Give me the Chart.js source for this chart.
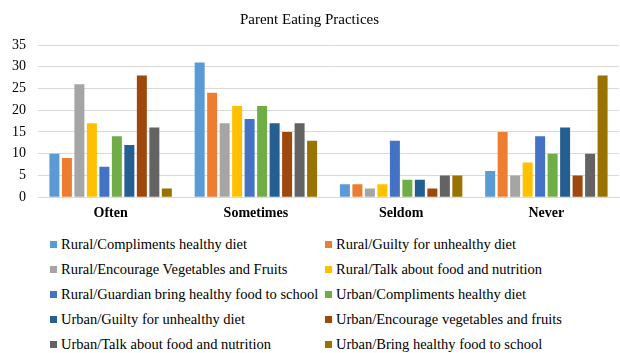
<!DOCTYPE html>
<html>
<head>
<meta charset="utf-8">
<script src="https://cdn.jsdelivr.net/npm/chart.js@4"></script>
<style>
  body { margin: 0; background: #fff; }
  #wrap { position: relative; width: 620px; height: 353px; }
  #chart-box { position: absolute; left: 0; top: 0; width: 620px; height: 230px; }
  #legend { position: absolute; left: 50px; top: 232px; font-family: 'Liberation Serif', 'Times New Roman', serif;
            font-size: 14.5px; color: #000; display: grid; grid-template-columns: 275px 290px; grid-auto-rows: 25px; }
  #legend .item { display: flex; align-items: center; white-space: nowrap; height: 25px; }
  #legend .sw { flex-shrink: 0; width: 7px; height: 7px; margin-right: 4px; }
</style>
</head>
<body>
<div id="wrap">
  <div id="chart-box"><canvas id="practices"></canvas></div>
  <div id="legend"></div>
</div>
<script>
var categories = ['Often', 'Sometimes', 'Seldom', 'Never'];

var seriesNames = [
    'Rural/Compliments healthy diet',
    'Rural/Guilty for unhealthy diet',
    'Rural/Encourage Vegetables and Fruits',
    'Rural/Talk about food and nutrition',
    'Rural/Guardian bring healthy food to school',
    'Urban/Compliments healthy diet',
    'Urban/Guilty for unhealthy diet',
    'Urban/Encourage vegetables and fruits',
    'Urban/Talk about food and nutrition',
    'Urban/Bring healthy food to school'
];

// one row per series: Often, Sometimes, Seldom, Never
var ruralCompliments = [10, 31, 3, 6];
var ruralGuilty      = [9, 24, 3, 15];
var ruralEncourage   = [26, 17, 2, 5];
var ruralTalk        = [17, 21, 3, 8];
var ruralGuardian    = [7, 18, 13, 14];
var urbanCompliments = [14, 21, 4, 10];
var urbanGuilty      = [12, 17, 4, 16];
var urbanEncourage   = [28, 15, 2, 5];
var urbanTalk        = [16, 17, 5, 10];
var urbanBring       = [2, 13, 5, 28];

var yTicks = [0, 5, 10, 15, 20, 25, 30, 35];

var colors = ['#5b9bd5', '#ed7d31', '#a5a5a5', '#ffc000', '#4472c4',
              '#70ad47', '#255e91', '#9e480e', '#636363', '#997300'];

var allValues = [ruralCompliments, ruralGuilty, ruralEncourage, ruralTalk, ruralGuardian,
                 urbanCompliments, urbanGuilty, urbanEncourage, urbanTalk, urbanBring];

var serif = "'Liberation Serif', 'Times New Roman', serif";

var datasets = allValues.map(function (vals, i) {
    return {
        label: seriesNames[i],
        data: vals,
        backgroundColor: colors[i],
        borderWidth: 0,
        categoryPercentage: 0.86,
        barPercentage: 0.8
    };
});

var ctx = document.getElementById('practices').getContext('2d');
var practicesChart = new Chart(ctx, {
    type: 'bar',
    data: { labels: categories, datasets: datasets },
    options: {
        responsive: true,
        maintainAspectRatio: false,
        animation: false,
        layout: { padding: { left: 0, right: 1, top: 0, bottom: 0 } },
        plugins: {
            legend: { display: false },
            tooltip: { enabled: false },
            title: {
                display: true,
                text: 'Parent Eating Practices',
                color: '#000',
                font: { family: serif, size: 15, weight: 'normal' },
                padding: { top: 11, bottom: 16 }
            }
        },
        scales: {
            x: {
                grid: { display: false, drawTicks: false },
                border: { display: true, color: '#d9d9d9' },
                ticks: {
                    color: '#000',
                    padding: 8,
                    font: { family: serif, size: 14, weight: 'bold' }
                }
            },
            y: {
                min: 0,
                max: 35,
                afterBuildTicks: function (axis) {
                    axis.ticks = yTicks.map(function (v) { return { value: v }; });
                },
                grid: { color: '#d9d9d9', drawTicks: false },
                border: { display: false },
                ticks: {
                    color: '#000',
                    padding: 12,
                    font: { family: serif, size: 14 }
                }
            }
        }
    }
});

// two column legend under the chart
var legendEl = document.getElementById('legend');
datasets.forEach(function (ds) {
    var item = document.createElement('div');
    item.className = 'item';
    var sw = document.createElement('span');
    sw.className = 'sw';
    sw.style.background = ds.backgroundColor;
    var txt = document.createElement('span');
    txt.textContent = ds.label;
    item.appendChild(sw);
    item.appendChild(txt);
    legendEl.appendChild(item);
});
</script>
</body>
</html>
